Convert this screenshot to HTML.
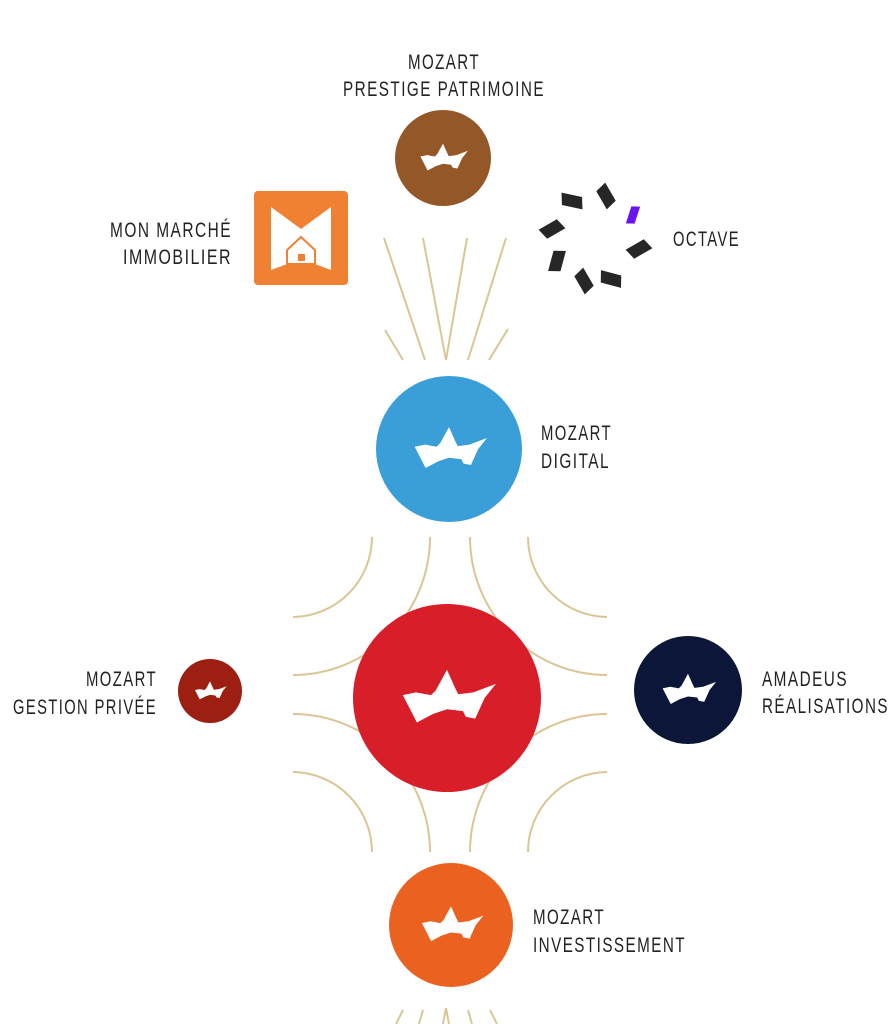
<!DOCTYPE html>
<html><head><meta charset="utf-8"><style>
html,body{margin:0;padding:0;background:#fff;}
svg{display:block}
text{font-family:"Liberation Sans",sans-serif;font-size:21px;fill:#222;letter-spacing:2px;}
</style></head><body>
<svg width="893" height="1024" viewBox="0 0 893 1024" xmlns="http://www.w3.org/2000/svg">
<defs>
<path id="cr" d="M-0.47,-0.03 L-0.33,-0.06 L-0.17,-0.03 L-0.12,-0.08 L0,-0.3 L0.08,-0.12 L0.12,-0.04 L0.28,-0.06 L0.52,-0.15 L0.4,0 L0.3,0.22 L0.2,0.2 L0.17,0.14 L0,0.12 L-0.15,0.17 L-0.32,0.26 Z" fill="#fff"/>
<polygon id="pc" points="-12,-6 9,-6 12,6 -9,6"/>
</defs>
<g stroke="#dcc595" stroke-width="2" fill="none">
<line x1="384" y1="238" x2="425" y2="360"/>
<line x1="423" y1="238" x2="446" y2="360"/>
<line x1="467" y1="238" x2="446" y2="360"/>
<line x1="506" y1="238" x2="468" y2="360"/>
<line x1="385" y1="330" x2="403" y2="360"/>
<line x1="508" y1="329" x2="489" y2="360"/>
<path d="M372,537 A80,80 0 0 1 293,617"/>
<path d="M430,537 A137,138 0 0 1 293,675"/>
<path d="M528,537 A80,80 0 0 0 607,617"/>
<path d="M470,537 A137,138 0 0 0 607,675"/>
<path d="M372,852 A80,80 0 0 0 293,772"/>
<path d="M430,852 A137,138 0 0 0 293,714"/>
<path d="M528,852 A80,80 0 0 1 607,772"/>
<path d="M470,852 A137,138 0 0 1 607,714"/>
<line x1="403" y1="1010" x2="396" y2="1024"/>
<line x1="423" y1="1010" x2="419" y2="1024"/>
<line x1="446" y1="1008" x2="443" y2="1024"/>
<line x1="446" y1="1008" x2="449" y2="1024"/>
<line x1="468" y1="1010" x2="472" y2="1024"/>
<line x1="490" y1="1010" x2="497" y2="1024"/>
</g>
<circle cx="443" cy="158" r="48" fill="#945828"/>
<use href="#cr" transform="translate(443,158) scale(48)"/>
<circle cx="449" cy="449" r="73" fill="#3a9fd9"/>
<use href="#cr" transform="translate(449,449) scale(73)"/>
<circle cx="447" cy="698" r="94" fill="#d71e29"/>
<use href="#cr" transform="translate(447,698) scale(94)"/>
<circle cx="210" cy="691" r="32" fill="#9c1f12"/>
<use href="#cr" transform="translate(210,691) scale(32)"/>
<circle cx="688" cy="690" r="54" fill="#0b1638"/>
<use href="#cr" transform="translate(688,690) scale(54)"/>
<circle cx="451" cy="925" r="62" fill="#eb6220"/>
<use href="#cr" transform="translate(451,925) scale(62)"/>
<rect x="254" y="191" width="94" height="94" rx="4" fill="#f08132"/>
<polygon points="271,207 301,229 331,207 331,270 301,259 271,270" fill="#fff"/>
<polygon points="287,264 287,250 301,237 315,250 315,264" fill="#fff" stroke="#f08132" stroke-width="2"/>
<rect x="298" y="254" width="7" height="7" fill="#f08132"/>
<g fill="#262626">
<use href="#pc" transform="translate(572,201) rotate(12)"/>
<use href="#pc" transform="translate(606,196) rotate(60)"/>
<use href="#pc" transform="translate(639,249) rotate(-30)"/>
<use href="#pc" transform="translate(611,279) rotate(15)"/>
<use href="#pc" transform="translate(584,281) rotate(60)"/>
<use href="#pc" transform="translate(557,261) rotate(-75)"/>
<use href="#pc" transform="translate(552,229) rotate(-30)"/>
</g>
<use href="#pc" fill="#6b12f0" transform="translate(633,215) rotate(-72) scale(0.85,0.7)"/>
<text x="408" y="69" textLength="72" lengthAdjust="spacingAndGlyphs">MOZART</text>
<text x="343" y="96" textLength="202" lengthAdjust="spacingAndGlyphs">PRESTIGE PATRIMOINE</text>
<text x="110" y="237" textLength="122" lengthAdjust="spacingAndGlyphs">MON MARCHÉ</text>
<text x="123" y="264" textLength="109" lengthAdjust="spacingAndGlyphs">IMMOBILIER</text>
<text x="673" y="246" textLength="67" lengthAdjust="spacingAndGlyphs">OCTAVE</text>
<text x="541" y="440" textLength="71" lengthAdjust="spacingAndGlyphs">MOZART</text>
<text x="541" y="468" textLength="69" lengthAdjust="spacingAndGlyphs">DIGITAL</text>
<text x="86" y="686" textLength="71" lengthAdjust="spacingAndGlyphs">MOZART</text>
<text x="13" y="714" textLength="144" lengthAdjust="spacingAndGlyphs">GESTION PRIVÉE</text>
<text x="762" y="686" textLength="86" lengthAdjust="spacingAndGlyphs">AMADEUS</text>
<text x="762" y="713" textLength="127" lengthAdjust="spacingAndGlyphs">RÉALISATIONS</text>
<text x="533" y="924" textLength="72" lengthAdjust="spacingAndGlyphs">MOZART</text>
<text x="533" y="952" textLength="153" lengthAdjust="spacingAndGlyphs">INVESTISSEMENT</text>
</svg>
</body></html>
